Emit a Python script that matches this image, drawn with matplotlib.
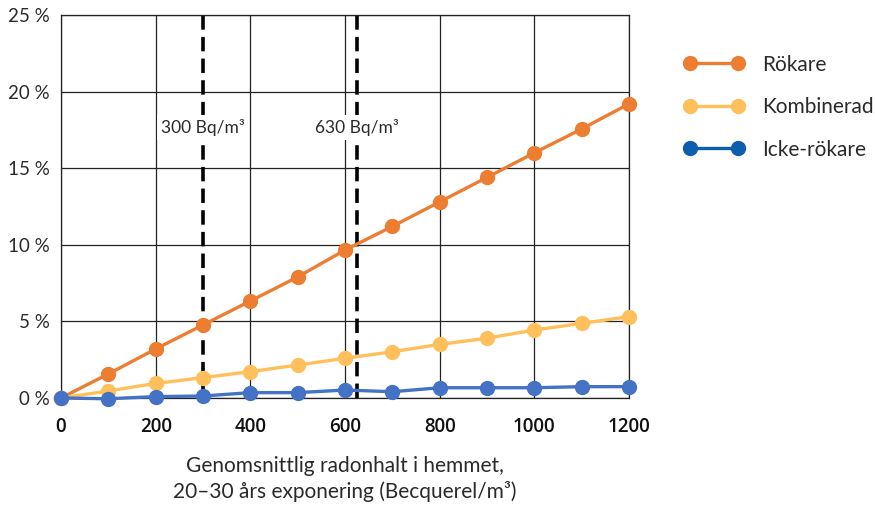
import matplotlib.pyplot as plt
from matplotlib.lines import Line2D

plt.rcParams["font.family"] = ["Lato", "DejaVu Sans"]

# exposure, Bq/m3
radon = [0, 100, 200, 300, 400, 500, 600, 700, 800, 900, 1000, 1100, 1200]

# risk in percent
rokare = [0, 1.57, 3.2, 4.77, 6.33, 7.9, 9.66, 11.2, 12.8, 14.4, 16.0, 17.56, 19.2]
kombinerad = [0, 0.46, 0.95, 1.33, 1.72, 2.15, 2.59, 3.02, 3.5, 3.9, 4.44, 4.87, 5.31]
icke_rokare = [0, -0.05, 0.09, 0.13, 0.35, 0.35, 0.52, 0.41, 0.67, 0.67, 0.67, 0.74, 0.74]

ref_levels = [300, 625]
ref_labels = ["300 Bq/m³", "630 Bq/m³"]

x_ticks = [0, 200, 400, 600, 800, 1000, 1200]
y_ticks = [0, 5, 10, 15, 20, 25]
y_ticklabels = ["0 %", "5 %", "10 %", "15 %", "20 %", "25 %"]

C_ORANGE = "#ED7D31"
C_YELLOW = "#FFC05C"
C_BLUE = "#4472C4"
C_BLUE_LEG = "#0D5EAF"
C_TEXT = "#2a2a2a"

fig = plt.figure(figsize=(8.75, 5.05), dpi=100)
ax = fig.add_axes([61 / 875, 107 / 505, 568 / 875, 383 / 505])

ax.set_xlim(0, 1200)
ax.set_ylim(0, 25)
ax.set_xticks(x_ticks)
ax.set_yticks(y_ticks)
ax.set_yticklabels(y_ticklabels)
ax.tick_params(length=0)
ax.tick_params(axis="x", labelsize=13.5, pad=14, labelcolor="#111111")
ax.tick_params(axis="y", labelsize=13.5, pad=8, labelcolor=C_TEXT)
for lab in ax.get_xticklabels():
    lab.set_fontfamily(["Open Sans", "DejaVu Sans"])
    lab.set_fontweight("semibold")

ax.grid(True, color="#222222", linewidth=0.9, zorder=0)
ax.set_axisbelow(True)
for sp in ax.spines.values():
    sp.set_color("#222222")
    sp.set_linewidth(0.9)

for xv, txt in zip(ref_levels, ref_labels):
    ax.axvline(xv, color="black", linewidth=2.6, linestyle=(0, (4, 2)), zorder=2)
    ax.text(xv, 17.65, txt, ha="center", va="center", fontsize=12.5,
            color=C_TEXT, zorder=3,
            bbox=dict(facecolor="white", edgecolor="none", pad=3))

series = [
    (rokare, C_ORANGE),
    (kombinerad, C_YELLOW),
    (icke_rokare, C_BLUE),
]
for vals, col in series:
    ax.plot(radon, vals, color=col, linewidth=2.4, marker="o", markersize=10,
            clip_on=False, zorder=4)

handles = [
    Line2D([0], [0], color=C_ORANGE, linewidth=2.4, marker="o", markersize=10),
    Line2D([0], [0], color=C_YELLOW, linewidth=2.4, marker="o", markersize=10),
    Line2D([0], [0], color=C_BLUE_LEG, linewidth=2.4, marker="o", markersize=10),
]
fig.legend(handles, ["Rökare", "Kombinerad", "Icke-rökare"],
           loc="upper left", bbox_to_anchor=(665 / 875, 1 - 36 / 505),
           frameon=False, handlelength=2.9, numpoints=2,
           labelspacing=1.08, handletextpad=0.85, labelcolor=C_TEXT,
           prop={"family": ["Lato", "DejaVu Sans"], "size": 15})

fig.text(345 / 875, 1 - 479 / 505,
         "Genomsnittlig radonhalt i hemmet,\n20–30 års exponering (Becquerel/m³)",
         ha="center", va="center", fontsize=15,
         color=C_TEXT, linespacing=1.25)

fig.savefig("out.png", dpi=100)
